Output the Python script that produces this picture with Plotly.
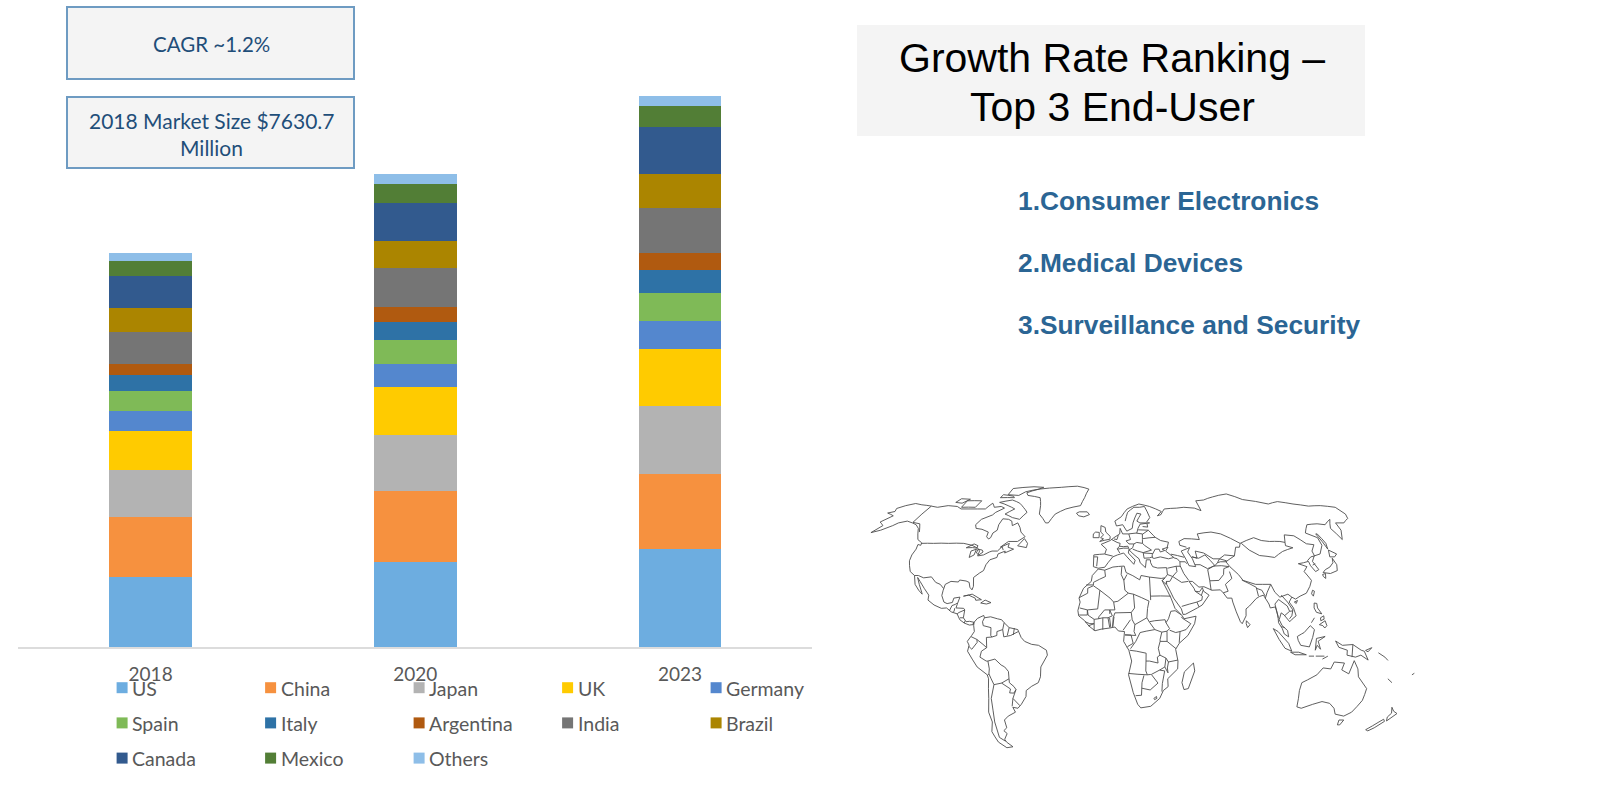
import plotly.graph_objects as go

years = ["2018", "2020", "2023"]
countries = ["US", "China", "Japan", "UK", "Germany", "Spain", "Italy", "Argentina",
             "India", "Brazil", "Canada", "Mexico", "Others"]
colors = ["#6DADE0", "#F6913F", "#B3B3B3", "#FFCB00", "#5487CE", "#7FBA57", "#2E72A6",
          "#B05A10", "#757575", "#AB8500", "#325A8E", "#527E36", "#8EBEE8"]

# market size by country, $ million
v2018 = [1364, 1147, 909, 771, 376, 395, 297, 217, 633, 455, 613, 297, 157]
v2020 = [1641, 1384, 1087, 929, 435, 474, 336, 297, 751, 534, 731, 376, 178]
v2023 = [1898, 1443, 1325, 1107, 534, 554, 435, 336, 870, 652, 909, 415, 198]

cagr_text = "CAGR ~1.2%"
size_text = ["2018 Market Size $7630.7", "Million"]
title_lines = ["Growth Rate Ranking –", "Top 3 End-User"]
end_users = ["1.Consumer Electronics", "2.Medical Devices", "3.Surveillance and Security"]

# rough world outlines, lon/lat
coast_america = [
    [(-168,65.6),(-164,66.5),(-166,68.3),(-162,70),(-156.5,71.3),(-150,70.5),(-141,69.7),(-135,69),(-128,70),(-120,69.5),(-115,68),(-108,68),(-102,68),(-96,68),(-94,71.5),(-90,69),(-85,69.5),(-81.5,68.5),(-86,66),(-87,64.5),(-93,62),(-94.5,59),(-92.5,57),(-88,56.5),(-82.5,55),(-82,52.5),(-80,51.3),(-79,52),(-79,54.5),(-77,56),(-78,59),(-77.5,62.3),(-73,62),(-70,61),(-68,58.5),(-65,60),(-62,57.5),(-60,55),(-56,52.5),(-60,50),(-66,50),(-70,47),(-65,49),(-65,47),(-61,46),(-66,44),(-66,45),(-70,43.5),(-70,41.7),(-74,40.5),(-75.5,38),(-76,35),(-78,33.8),(-81,31.5),(-80,27),(-80.5,25.2),(-82,26.5),(-83,29),(-85,29.7),(-89,30.2),(-89.5,29.2),(-94,29.5),(-97,28),(-97.5,25),(-97.8,22.3),(-96,19),(-94,18.2),(-91,18.8),(-90.5,21),(-87,21.5),(-88,18),(-88.5,16),(-84,15.8),(-83.3,15),(-83.7,11),(-82,9),(-80,9.2),(-77.4,8.7),(-78.2,7.5),(-80,7.3),(-81.5,7.8),(-83,8.3),(-85.7,10),(-87.5,13),(-91,14),(-94,16),(-97,15.8),(-101.5,17.5),(-105.5,20),(-105.5,22.5),(-109,26),(-112.5,29.5),(-114.7,31.5),(-112.5,28),(-110,24),(-109.5,23),(-112,25),(-115,28),(-117,32.5),(-120.5,34.5),(-122.5,37.5),(-124,40),(-124.5,43),(-124,46),(-124.7,48.4),(-122.5,48),(-123,49.3),(-127,51),(-130,54),(-133,57),(-137,59),(-141,60),(-146,61),(-151,60),(-153,58.5),(-158,56),(-163,54.7),(-160,58.5),(-165,60.5),(-161,64),(-168,65.6)],
    [(-62,66),(-65,62),(-71,63),(-78,65),(-73,68),(-80,70),(-89,72),(-80,73.5),(-72,71.5),(-67,69),(-62,66)],
    [(-105,69),(-116,69),(-117,73),(-105,73),(-105,69)],
    [(-62,82.5),(-72,83),(-90,81.5),(-88,77),(-78,76.5),(-75,79),(-65,81),(-62,82.5)],
    [(-125,72),(-119,71.5),(-116,74),(-124,74.3),(-125,72)],
    [(-80,75),(-92,75),(-92,77),(-82,76),(-80,75)],
    [(-59,47.7),(-53,46.8),(-53,49),(-56,51.5),(-59,47.7)],
    [(-45,60),(-52,65),(-54,70),(-58,75),(-70,76.5),(-73,78.3),(-65,81),(-45,82.5),(-30,83.5),(-18,81),(-20,75),(-22,70),(-33,68),(-40,65),(-43,60),(-45,60)],
    [(-24,65.5),(-22,64),(-18,63.4),(-14,64.7),(-16,66.3),(-22,66.3),(-24,65.5)],
    [(-85,22),(-80,23),(-74.2,20.2),(-77.5,19.9),(-78,21),(-82,22.5),(-85,22)],
    [(-74.4,18.5),(-72,20),(-68.4,18.7),(-71,18),(-74.4,18.5)],
    [(-77.4,8.7),(-75.5,10.7),(-72,12.2),(-71.5,11),(-68,11.5),(-64,10.5),(-61.5,10),(-60,8.5),(-57,6),(-52,5),(-50,1),(-48,-1),(-44,-2.5),(-40,-3),(-35.5,-5.5),(-35,-8),(-39,-14),(-39.5,-19),(-41,-22),(-45,-23.8),(-48.5,-26),(-49,-29),(-52.5,-33),(-55,-35),(-58,-34.5),(-57,-37),(-62,-39),(-65,-41),(-65,-45),(-67.5,-46.5),(-66,-48),(-69,-51),(-68.5,-52.5),(-65.5,-55),(-70,-55.5),(-74,-52.5),(-75.5,-47),(-73,-42),(-73.5,-37),(-71.5,-30),(-70,-20),(-70.5,-18),(-76,-14),(-81,-6),(-80,-3),(-81,-1),(-78.5,2),(-77,4),(-77.5,7),(-77.4,8.7)],
    [(-92,46.7),(-88,48.7),(-85,47.8),(-85,46.5),(-88,46.8),(-92,46.7)],
    [(-87.5,41.7),(-88,45),(-85,46),(-85,43),(-87.5,41.7)],
    [(-84,46),(-81,45.5),(-80,44.5),(-82,43),(-84,44),(-84,46)],
]
coast_africa = [
    [(-6,35.8),(-2,35.2),(3,36.8),(10,37.3),(11,34),(15,32.4),(19,30.3),(20,32.5),(25,31.7),(32,31),(34.2,31.3),(32.5,29.8),(35,25),(37,21),(39,15.8),(43,12),(44,10.5),(51,11.8),(50,8),(46,2),(41,-2),(39,-5),(40.5,-11),(40.5,-15),(35,-20),(35.5,-24),(32.8,-26),(31,-30),(26,-34),(20,-34.8),(18,-33),(15,-27),(12,-18),(13.7,-11),(12,-5.5),(9,-1),(9.5,4),(6,4.3),(4,6.3),(1,5.8),(-4,5.2),(-7.5,4.4),(-11,6.8),(-13.5,9.5),(-17,12),(-17.5,14.7),(-16.3,19),(-17,21),(-14.5,26),(-10,29.5),(-9.5,32.5),(-6,35.8)],
    [(49.5,-12),(50.5,-16),(47.5,-25),(45,-25.5),(43.5,-22),(44.5,-16.5),(49.5,-12)],
]
coast_eurasia = [
    [(-9,43),(-9,37),(-6,36.2),(-2,36.7),(0,39),(3,42),(6,43),(10,44),(12,42),(16,38.2),(17,40.3),(13,44),(13.5,45.7),(16,43.5),(19.5,41),(20,39),(23,36.5),(24,40.5),(26.5,40.5),(26.5,39),(27.5,37),(30.5,36.3),(36,36.5),(36,33),(34.5,31.5),(32.5,29.9),(34.5,28),(35,29.5),(35,28),(38.5,21),(42.7,15.5),(43.5,12.7),(45,12.8),(52,16),(55,17.5),(59.5,22.5),(56.5,24.5),(56,26.3),(54,24.2),(51.5,24.5),(51,26),(48.5,29.5),(50.5,29.5),(54,26.6),(57,26.8),(61.5,25),(66.5,25.2),(68,23.7),(70,21),(72.7,21),(73,19),(74.5,14),(76.5,9),(77.5,8),(80,12),(80.3,15.5),(82.5,17),(87,20.8),(89,21.8),(91.5,22.5),(94,18),(94.5,16),(97.5,16.5),(98.5,12),(98.5,8.5),(100.5,5.5),(101.5,2.8),(104,1.3),(103.5,4.5),(100.5,7),(99,10),(100.5,13.5),(102,12.5),(105,9),(106.5,10.3),(109,12),(108,16),(106,19),(108,21.5),(110,20.5),(113,22),(117,23.5),(120,27),(122,30),(119.5,34.5),(122.5,37),(118,38.5),(121.5,39),(125,39.7),(125,37.5),(126.5,34.5),(129,35.5),(127.5,39.7),(130.5,42.5),(135,43.5),(140,48),(141,52),(135.5,54.5),(142,59),(150,59.5),(155,59),(163,62),(156,57),(156.5,51),(162,56),(164,60),(170,60),(177,62.5),(179.9,65),(179.9,69),(170,70),(160,69.7),(150,71),(140,72.5),(130,71),(113,73.8),(105,77.5),(90,75.5),(80,73.5),(73,73),(72,67),(68,68.5),(60,69),(54,68.5),(44,68),(40,64.7),(37,64),(41,66.5),(33,69.5),(25,71),(15,68),(10,63.5),(5,61),(6,58.3),(10.5,59),(13,55.5),(17,57),(18,60),(22,65.5),(25,65),(21,61),(23,60),(30,60),(23,59.3),(21,57),(19.8,54.5),(14,54),(10,54),(8.5,57),(8,54),(4,52),(1.5,50.5),(-4.5,48.5),(-1,46),(-2,43.5),(-9,43)],
    [(29,41.2),(33,42),(38,41),(41.5,41.7),(37,45),(39,47),(35,46),(36.5,45.3),(33.5,44.5),(33,46),(30.5,46),(28,43),(28,41.5),(29,41.2)],
    [(47,45),(53,46.8),(51,44.5),(53,41),(54,37),(50,37.5),(49,40.5),(47,45)],
    [(-5.5,50),(1.3,51.2),(1.5,52.7),(-1.5,55),(-2,57.5),(-5,58.5),(-5,55),(-3,53.5),(-5,52),(-3,51.4),(-5.5,50)],
    [(-10,52),(-6,52),(-6,54.8),(-8.5,55),(-10,54),(-10,52)],
    [(130.8,34),(135,33.5),(140,35),(141.5,38),(141,41.3),(139.8,39),(136.5,36.8),(133,35.5),(130.8,34)],
    [(130,33),(132,33.5),(131,31),(130,32),(130,33)],
    [(140,42),(143,42),(145.5,43.5),(142,45.5),(140,42)],
    [(142,46),(143.5,49),(143,54),(142,54),(142,50),(142,46)],
    [(109,19),(111,19.8),(110,18.3),(109,19)],
    [(121,25),(122,24.5),(120.8,22),(120,23.2),(121,25)],
    [(80,9.5),(82,7.5),(80.5,6),(79.8,8),(80,9.5)],
]
coast_pacific = [
    [(120.5,18.5),(122,18.3),(122,16),(124,13),(121,13.8),(120,16),(120.5,18.5)],
    [(122,7.5),(125.5,9.5),(126.3,7),(125,5.8),(124,7),(122,7.5)],
    [(123,11),(125,12),(125,10.3),(123,9.5),(123,11)],
    [(117.5,8.5),(119.5,11)],
    [(109,1.5),(111.5,2.8),(113,3.5),(116.7,7),(119,5),(117.8,1),(116,-3.8),(111,-3),(109.5,-0.5),(109,1.5)],
    [(95.3,5.5),(98,4),(104,-2),(106,-6),(102,-4.5),(98.5,0),(95.3,5.5)],
    [(105.3,-6.5),(110,-6.5),(114.5,-7.8),(108,-7.8),(105.3,-6.5)],
    [(119.5,-5.5),(120,0.5),(125,1.5),(121,-0.9),(122.5,-5),(120.5,-3),(119.5,-5.5)],
    [(116,-8.5),(119,-8.5)],
    [(120,-8.5),(125,-8.5)],
    [(124,-10),(127,-8.5)],
    [(131,-0.8),(135,-3),(141,-2.6),(146,-5.5),(147.8,-6),(150.5,-10.5),(146,-8),(143,-9),(138,-8),(138,-5.5),(133,-4),(131,-0.8)],
    [(141,-2.6),(141,-9)],
    [(148.5,-5.6),(152,-4.2),(150,-6.3),(148.5,-5.6)],
    [(156,-6.8),(160,-9),(162,-10.7)],
    [(114,-22),(113.5,-26),(115,-34.3),(118,-35),(124,-33),(129,-31.6),(134,-32.5),(138,-35),(140.5,-38),(146.5,-39),(150,-37),(153,-31),(153,-25),(146.5,-19),(145.3,-15),(142.5,-10.8),(141.5,-14),(140.5,-17.5),(136,-15.5),(137,-12),(131,-11.5),(129.5,-15),(125,-14.5),(122,-18),(117,-20.6),(114,-22)],
    [(145,-41),(148,-41),(147.5,-43.5),(146,-43.5),(145,-41)],
    [(173,-34.5),(175.5,-36.5),(178.5,-37.7),(175.3,-41.5),(174,-39.5),(175,-37.5),(173,-34.5)],
    [(172.7,-40.6),(174.2,-41.7),(171,-45),(168.5,-46.6),(166.5,-46),(171,-42),(172.7,-40.6)],
    [(164,-20),(167,-22)],
    [(177.5,-18),(179,-17)],
]
borders_america = [
    [(-141,69.7),(-141,60.3),(-135,59.5),(-130,55)],
    [(-123,49),(-115,49),(-105,49),(-95,49),(-89,48),(-84.5,46.5),(-82.5,45),(-82.5,42.5),(-79,43),(-76,44.5),(-74.5,45),(-71,45),(-69,47.3),(-67.5,45.5)],
    [(-117,32.5),(-114.7,32.5),(-111,31.3),(-106.5,31.8),(-103,29),(-100,28),(-97.5,25.9)],
    [(-92.2,14.5),(-91,17.2),(-89.2,17.8),(-88.3,18.4)],
    [(-89.2,15.9),(-89.4,14.4),(-90,13.7)],
    [(-83.2,15),(-86.5,13.7),(-87.5,13)],
    [(-83.7,11),(-85.7,11)],
    [(-82.6,9.5),(-83,8.3)],
    [(-77.4,8.7),(-77.9,7.2)],
    [(-71.5,11),(-72.5,9),(-72,7),(-67.5,6),(-67.5,2),(-66.9,1.2),(-70,1),(-69.9,-4.2),(-72,-2.5),(-75.5,0),(-78.8,1.4)],
    [(-75.5,0),(-75.3,-1.5),(-78.5,-5),(-80.3,-3.4)],
    [(-69.9,-4.2),(-73,-6),(-74,-9),(-70.5,-11),(-69.5,-11),(-69,-15),(-69.5,-17.5),(-70.4,-18.3)],
    [(-69.5,-11),(-65.4,-10),(-62,-13),(-60,-14),(-58,-16.3),(-58,-20),(-58,-22),(-55.5,-24),(-54.5,-25.5),(-56,-27.3),(-58.5,-27.2),(-57.7,-25.2),(-62.6,-22.2),(-58,-20)],
    [(-69.5,-17.5),(-68.5,-20),(-67.2,-23),(-70,-30),(-70.5,-36),(-71.5,-42),(-72,-50),(-69,-52)],
    [(-67.2,-23),(-62.6,-22.2)],
    [(-54.5,-25.5),(-57,-30),(-53.5,-33.7)],
    [(-57,-30),(-58.3,-34)],
    [(-60,8.5),(-60.7,5),(-64,4),(-64,2),(-66.9,1.2)],
    [(-60.7,5),(-60,1.3),(-56,2),(-51.7,4)],
    [(-57,6),(-58,2)],
    [(-54,5.8),(-54.5,2.3)],
]
borders_africa = [
    [(-2,35.2),(-1.5,32),(-8.7,29),(-8.7,27.7),(-13,27.7)],
    [(-8.7,27.3),(-12,26),(-12,23.5),(-17,21.2)],
    [(-8.7,27.3),(-4.8,25),(1.2,21),(3.3,19),(5.8,19.4),(12,23.5)],
    [(-4.8,25),(-6,15.5),(-12,15),(-16.5,16)],
    [(8.5,36.9),(8,33),(9.5,30),(10,25),(12,23.5)],
    [(11.5,33),(9.5,30)],
    [(25,31.7),(25,22),(25,20)],
    [(12,23.5),(15,23),(24,19.5)],
    [(25,22),(36.9,22)],
    [(15,23),(15.5,16),(13.5,13.7)],
    [(24,19.5),(23,15.7),(22.5,11),(24,8.7),(27,5),(31,3.7),(34,4.2),(35.5,5.5),(33.5,8.5)],
    [(36.5,14.3),(35,10.5),(33.5,8.5)],
    [(24,9),(27,9.5),(33,10),(33.5,8.5)],
    [(36.5,14.3),(39,14.6),(42.5,12.5)],
    [(42.5,11.5),(43,10.8),(47.8,8),(45,5),(41.5,4),(39,3.5),(35.5,4.7)],
    [(41.5,4),(41,-1.7)],
    [(39.2,-4.7),(34,-1),(34,4.2)],
    [(34,-1),(30,-1),(30,0),(31,3.7)],
    [(30,-1),(29,-4.5),(30,-8),(28.5,-9),(29,-12),(24,-11),(22,-11),(22,-7),(16.5,-6),(12.5,-5.5)],
    [(27,5),(22,4.2),(18.5,3.5),(16,-1),(13,-4.7)],
    [(22.5,11),(15.5,7.5),(14,10),(13.5,13.7),(4,13.5),(3,11),(2.7,6.4)],
    [(15.5,7.5),(15,4),(16,2),(9.8,2.3)],
    [(13,10),(8.7,4.7)],
    [(3.3,19),(4,15),(1,15),(1,13)],
    [(-3,11),(-5.5,10.5),(-5.3,11.5),(-2,15),(1,15),(2.5,12),(0,11),(-3,11),(-3,5)],
    [(0,11),(1,6)],
    [(0.9,11),(1.6,6.2)],
    [(3.5,11.5),(2.7,6.4)],
    [(-8,4.5),(-8,8),(-8,10.2),(-5.5,10.5)],
    [(-12,15),(-11.5,12.3),(-8,10.2)],
    [(-12,14.8),(-12,12.4),(-16.7,12.4)],
    [(-13.3,9),(-10.5,8),(-8,8),(-11.4,6.9)],
    [(12,-17.3),(23,-18),(25,-17.8)],
    [(22,-11),(22,-13),(22,-16),(23,-18)],
    [(16.5,-28.6),(20,-28.4),(20,-22),(21,-18.3)],
    [(20,-24.8),(25,-25.7),(29.4,-22.2),(25.3,-17.8),(30,-15.6),(33,-14)],
    [(30,-15.6),(33,-16),(32,-22.4),(32,-26.5)],
    [(33,-14),(33.5,-9.5),(35,-11.5),(34.5,-14.5),(35,-17),(33,-14)],
    [(34.8,-11.5),(40.4,-10.5)],
    [(30,-8),(33.5,-9.5)],
    [(27.5,-30),(29,-29),(29.3,-30),(28,-30.6),(27.5,-30)],
    [(9.8,2.3),(13.3,2.2),(14.5,-2),(11.5,-3.5),(11,-4)],
]
borders_asia = [
    [(51,47),(47,48),(47,50),(51,51.5),(61,51),(61,54),(71,55),(77,54),(87,49),(85.5,47),(83,47),(80,42.5),(74,43),(70,41),(66,41),(61,44),(56,45),(56,41.3),(53,42)],
    [(87,49),(92,50.5),(98,52),(102,50.5),(107,50),(114,50),(117,49.5),(120,53.5),(126,53),(130.5,48.8),(135,48.3),(131,45),(130.7,42.5)],
    [(87.8,49),(91,45.5),(96,42.7),(105,41.7),(112,44.8),(120,46.7),(116,47.8),(117,49.5)],
    [(80,42.5),(73.5,39.5),(75,37),(79,33),(81,30),(88,28),(92,28),(97,28),(98.5,24),(101,21.5),(106,23),(108,21.5)],
    [(124.5,40),(128,42),(130.6,42.5)],
    [(126.5,37.8),(128.5,38.5)],
    [(80.3,30.2),(88,26.5)],
    [(74,34.5),(74.5,31),(70,28),(71,24.5),(68,23.7)],
    [(88,26.5),(88.5,22)],
    [(88,26),(91,25),(92.5,22)],
    [(97,28),(94,24),(92.3,20.8)],
    [(100,20.3),(97.5,18),(98.5,11)],
    [(102,22.5),(105,19),(107.5,15),(106.5,12),(105,10.5)],
    [(100,20.3),(104.5,17),(105.5,14.3),(102.5,12.2)],
    [(105.5,14.3),(107.5,14.5)],
    [(100,6.5),(102,6)],
    [(74.5,37),(71,36),(70,33),(66.5,30),(61,29.8),(61,25)],
    [(61,29.8),(61,35.5),(65,37.3),(70,37.5),(74.5,37)],
    [(53.8,38),(57,38),(61,36),(66,37.5),(61.5,43),(57,41.3),(53,42)],
    [(66,37.5),(68,39),(70,41),(74,40),(73.5,39.5),(70,39.5),(68,39)],
    [(48.5,29.9),(46,33.5),(44.5,37.5),(44.8,39.5),(48,39.5),(49,38.5)],
    [(44.8,37.2),(42,37.2),(36.5,36.2)],
    [(48,29.5),(44,29),(39,32),(42,34.5),(42,37.2)],
    [(36,33),(39,32),(37,29.5),(35,29.5)],
    [(43,16.8),(52,19),(55,20),(55.5,22),(51.5,24.5)],
    [(52,19),(53,16.6)],
    [(55,22.5),(56.3,25)],
    [(41.5,41.5),(43.5,41),(44.8,39.5)],
    [(40,43.4),(48,41.8)],
]
borders_europe = [
    [(-2,43.4),(3,42.4)],
    [(-8.8,42),(-6.5,42),(-7,37.2)],
    [(2.5,51),(6,49.5),(8,49),(7.5,47.5),(6,46.2),(7.5,44)],
    [(7.5,47.5),(10,47.3),(13,47.5),(13.7,45.7)],
    [(6,46),(10,46.5),(13,46.5)],
    [(4,51.3),(6,51),(7,53.3)],
    [(14.2,54),(15,51),(12,50.3),(13.8,48.7),(17,48.7),(19,49.5),(22.7,49),(23,51),(23.5,54),(19.5,54.4)],
    [(17,48.7),(16,46.7),(13.5,45.5)],
    [(22.7,49),(24,47.9),(28,45.5),(22.5,44.2),(19,45),(16,46)],
    [(22.5,44.2),(22.7,41.3),(26.2,41.5),(28,42)],
    [(22.8,44),(28.5,43.7)],
    [(31.8,52.2),(35,50.5),(40,49.6),(38.5,47)],
    [(23.5,53.8),(28,56),(31,53),(31.8,52.2),(23.5,51.5)],
    [(21,56.2),(28,56)],
    [(24.5,58),(28,57.7),(28,59.4)],
    [(28,60.5),(31,63),(29,69.5),(25,69),(20.5,69)],
    [(12.5,61),(15,66),(20.5,69)],
]


def flatten(groups):
    lon, lat = [], []
    for group in groups:
        for piece in group:
            lon += [p[0] for p in piece] + [None]
            lat += [p[1] for p in piece] + [None]
    return lon, lat


def label(text, x, y, size, color, family, bold=False, xanchor="center"):
    if bold:
        text = "<b>" + text + "</b>"
    return dict(text=text, x=x, y=y, xref="x2", yref="y2", showarrow=False, xanchor=xanchor,
                yanchor="middle", font=dict(family=family, size=size, color=color))


fig = go.Figure()

values = list(zip(v2018, v2020, v2023))
for name, color, vals in zip(countries, colors, values):
    fig.add_trace(go.Bar(x=years, y=list(vals), name=name, marker_color=color,
                         marker_line_width=0, showlegend=False))

annotations = []

# legend keys sit on the pixel axes so the rows can be spaced like the original
for i, (name, color) in enumerate(zip(countries, colors)):
    key_x = 122.1 + 148.5 * (i % 5)
    key_y = 687.7 + 35.2 * (i // 5)
    fig.add_trace(go.Scatter(x=[key_x], y=[key_y], xaxis="x2", yaxis="y2", mode="markers",
                             name=name, cliponaxis=False,
                             marker=dict(symbol="square", size=11, color=color),
                             showlegend=False))
    annotations.append(label(name, key_x + 8.1, key_y + 0.7, 19.5, "#595959", "Lato",
                             xanchor="left"))

map_lon, map_lat = flatten([coast_america, coast_africa, coast_eurasia, coast_pacific,
                            borders_america, borders_africa, borders_asia, borders_europe])
fig.add_trace(go.Scattergeo(lon=map_lon, lat=map_lat, mode="lines",
                            line=dict(color="#4d4d4d", width=0.9), showlegend=False))

shapes = []
for y0, y1 in [(7, 79), (97, 168)]:
    shapes.append(dict(type="rect", xref="x2", yref="y2", x0=67, x1=354, y0=y0, y1=y1,
                       fillcolor="#F4F4F4", line=dict(color="#6E9BC2", width=2), layer="below"))
shapes.append(dict(type="rect", xref="x2", yref="y2", x0=857, x1=1365, y0=25, y1=136,
                   fillcolor="#F4F4F4", line_width=0, layer="below"))

annotations.append(label(cagr_text, 211, 44, 20.5, "#1F4E79", "Lato"))
for line, ypos in zip(size_text, [120, 147]):
    annotations.append(label(line, 211, ypos, 21, "#1F4E79", "Lato"))
for line, ypos in zip(title_lines, [58, 107]):
    annotations.append(label(line, 1112, ypos, 41, "#000000", "Liberation Sans"))
for line, ypos in zip(end_users, [201, 263, 325]):
    annotations.append(label(line, 1016, ypos, 26.3, "#2B6594", "Liberation Sans", True, "left"))

fig.update_layout(
    width=1600, height=790, autosize=False,
    margin=dict(l=0, r=0, t=0, b=0),
    paper_bgcolor="white", plot_bgcolor="rgba(0,0,0,0)",
    barmode="stack", bargap=0.6875,
    xaxis=dict(domain=[18.3 / 1600, 812.3 / 1600], anchor="y", type="category",
               range=[-0.5, 2.5], showgrid=False, ticks="", showline=True,
               linecolor="#DCDCDC", linewidth=1.5, ticklabelstandoff=9,
               tickfont=dict(family="Lato", size=19, color="#595959")),
    yaxis=dict(domain=[(790 - 647) / 790, (790 - 40) / 790], anchor="x", range=[0, 11756],
               visible=False),
    xaxis2=dict(domain=[0, 1], range=[0, 1600], anchor="y2", visible=False),
    yaxis2=dict(domain=[0, 1], range=[790, 0], anchor="x2", visible=False),
    geo=dict(domain=dict(x=[794 / 1600, 1422 / 1600], y=[0, (790 - 479) / 790]),
             visible=False, showframe=False, bgcolor="rgba(0,0,0,0)",
             projection=dict(type="robinson", scale=1.02),
             center=dict(lat=2.5),
             lonaxis=dict(range=[-180, 180]), lataxis=dict(range=[-90, 90])),
    shapes=shapes, annotations=annotations,
)

fig.write_html("out.html", config={"displayModeBar": False},
               post_script="document.body.style.margin='0';")
